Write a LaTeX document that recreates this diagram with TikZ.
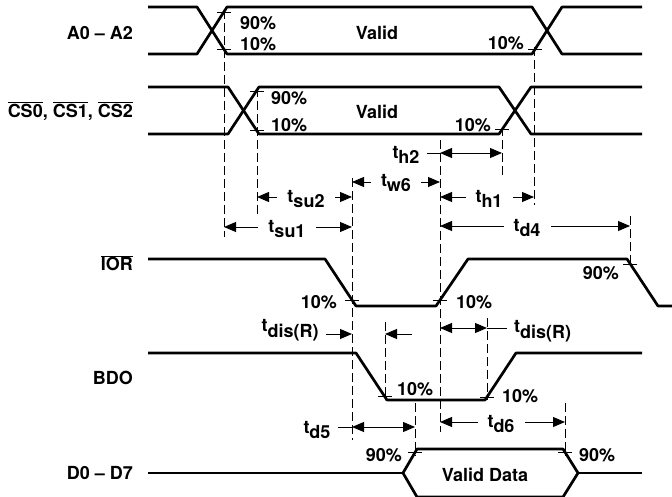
\documentclass[tikz,border=0pt]{standalone}
\usepackage{fontspec}
\setmainfont{TeX Gyre Heros}
\usetikzlibrary{arrows.meta}
\newcommand\ovl[1]{\ensuremath{\overline{\mbox{#1}}}}
\newcommand\tsb[1]{t\raisebox{-0.32em}{#1}}
\begin{document}
\begin{tikzpicture}[x=1pt,y=-1pt,
  sig/.style={line width=2.7pt, line join=round},
  guide/.style={line width=0.9pt, dash pattern=on 9pt off 4pt},
  tick/.style={line width=0.9pt},
  tri/.tip={Triangle[length=12pt,width=10pt]},
  dimboth/.style={line width=0.9pt, tri-tri},
  dimr/.style={line width=0.9pt, -tri},
  diml/.style={line width=0.9pt, tri-},
  lead/.style={line width=0.9pt},
  lbl/.style={font=\fontsize{18}{20}\selectfont\bfseries, inner sep=0pt},
  tl/.style={lbl, fill=white, inner xsep=10pt, inner ysep=1pt},
]
\useasboundingbox (0,0) rectangle (672,497);
\newcommand\tk[2]{\draw[tick] (#1,#2) ++(-7,0) -- ++(14,0);}

% ---- signal names
\node[lbl, anchor=east] (nA)   at (133,33)  {A0 -- A2};
\node[lbl, anchor=east] (nCS)  at (133,111) {\ovl{CS0}, \ovl{CS1}, \ovl{CS2}};
\node[lbl, anchor=east] (nIOR) at (133,263) {\ovl{IOR}};
\node[lbl, anchor=east] (nBDO) at (133,378) {BDO};
\node[lbl, anchor=east] (nD)   at (133,473) {D0 -- D7};

% ---- dashed guides
\draw[guide] (224,10) -- (224,237);
\draw[guide] (257,88) -- (257,215);
\draw[guide] (534,47) -- (534,205);
\draw[guide] (502,127) -- (502,178);
\draw[guide] (352,178) -- (352,440);
\draw[guide] (440,140) -- (440,432);
\draw[guide] (630,216) -- (630,264);
\draw[guide] (385,322) -- (385,400);
\draw[guide] (487,318) -- (487,400);
\draw[guide] (415,403) -- (415,456);
\draw[guide] (565,403) -- (565,456);

% ---- A0-A2
\draw[sig] (148,7) -- (197,7) -- (227,54) -- (532,54) -- (562,7) -- (642,7);
\draw[sig] (148,54) -- (197,54) -- (227,7) -- (532,7) -- (562,54) -- (642,54);
\tk{224}{12} \tk{224}{49} \tk{535}{49}
\node[lbl, anchor=west] (a90) at (240,23) {90\%};
\node[lbl, anchor=west] (a10) at (240,44) {10\%};
\node[lbl] (aval) at (377,33) {Valid};
\node[lbl, anchor=east] (a10r) at (524,43) {10\%};

% ---- CS
\draw[sig] (148,87) -- (228,87) -- (259,134) -- (499,134) -- (531,87) -- (642,87);
\draw[sig] (148,134) -- (228,134) -- (259,87) -- (499,87) -- (531,134) -- (642,134);
\tk{257}{91} \tk{257}{130} \tk{502}{129}
\node[lbl, anchor=west] (c90) at (271,98) {90\%};
\node[lbl, anchor=west] (c10) at (271,125) {10\%};
\node[lbl] (cval) at (377,112) {Valid};
\node[lbl, anchor=east] (c10r) at (491,125) {10\%};

% ---- timing dimensions (upper)
\coordinate (th2a) at (440,153); \coordinate (th2b) at (502,153);
\draw[dimboth] (th2a) -- (th2b);
\node[lbl] (th2) at (406,155) {\tsb{h2}};
\draw[lead] (427,153) -- (th2a);

\coordinate (tw6a) at (352,182); \coordinate (tw6b) at (440,182);
\draw[dimboth] (tw6a) -- (tw6b);
\node[tl] (tw6) at (396,183) {\tsb{w6}};

\coordinate (tsu2a) at (257,197); \coordinate (tsu2b) at (352,197);
\draw[dimboth] (tsu2a) -- (tsu2b);
\node[tl] (tsu2) at (306,199) {\tsb{su2}};

\coordinate (th1a) at (440,197); \coordinate (th1b) at (534,197);
\draw[dimboth] (th1a) -- (th1b);
\node[tl] (th1) at (489,199) {\tsb{h1}};

\coordinate (tsu1a) at (224,227); \coordinate (tsu1b) at (352,227);
\draw[dimboth] (tsu1a) -- (tsu1b);
\node[tl] (tsu1) at (287,229) {\tsb{su1}};

\coordinate (td4a) at (440,226); \coordinate (td4b) at (630,226);
\draw[dimboth] (td4a) -- (td4b);
\node[tl] (td4) at (527,228) {\tsb{d4}};

% ---- IOR
\draw[sig] (148,259) -- (325,259) -- (356,306) -- (436,306) -- (468,259) -- (627,259) -- (658,306) -- (672,306);
\tk{352}{300} \tk{440}{300} \tk{630}{264}
\node[lbl, anchor=east] (i10) at (337,302) {10\%};
\node[lbl, anchor=west] (i10r) at (456,302) {10\%};
\node[lbl, anchor=east] (i90) at (619,273) {90\%};

% ---- tdis(R)
\node[lbl] (tdisl) at (290,330) {\tsb{dis(R)}};
\coordinate (tdla) at (352,334);
\draw[dimr] (326,334) -- (tdla);
\coordinate (tdlb) at (385,334);
\draw[dimr] (412,334) -- (tdlb);
\coordinate (tdra) at (440,328); \coordinate (tdrb) at (487,328);
\draw[dimboth] (tdra) -- (tdrb);
\draw[lead] (tdrb) -- (507,328);
\node[lbl, anchor=west] (tdisr) at (514,331) {\tsb{dis(R)}};

% ---- BDO
\draw[sig] (148,353) -- (356,353) -- (387,400) -- (485,400) -- (516,353) -- (642,353);
\tk{385}{396} \tk{487}{397}
\node[lbl, anchor=west] (b10) at (397,389) {10\%};
\node[lbl, anchor=west] (b10r) at (502,396) {10\%};

% ---- td5 / td6
\node[lbl] (td5) at (317,430) {\tsb{d5}};
\coordinate (td5a) at (352,427); \coordinate (td5b) at (415,427);
\draw[lead] (338,427) -- (td5a);
\draw[dimboth] (td5a) -- (td5b);
\coordinate (td6a) at (440,422); \coordinate (td6b) at (565,422);
\draw[dimboth] (td6a) -- (td6b);
\node[tl] (td6) at (501,424) {\tsb{d6}};

% ---- D0-D7
\draw[sig] (148,473) -- (403,473);
\draw[sig] (578,473) -- (642,473);
\draw[sig] (403,473) -- (417,449) -- (563,449) -- (578,473) -- (563,497) -- (417,497) -- cycle;
\tk{415}{452} \tk{565}{452}
\node[lbl, anchor=east] (d90) at (402,455) {90\%};
\node[lbl, anchor=west] (d90r) at (579,455) {90\%};
\node[lbl] (dval) at (485,475) {Valid Data};
\end{tikzpicture}
\end{document}
